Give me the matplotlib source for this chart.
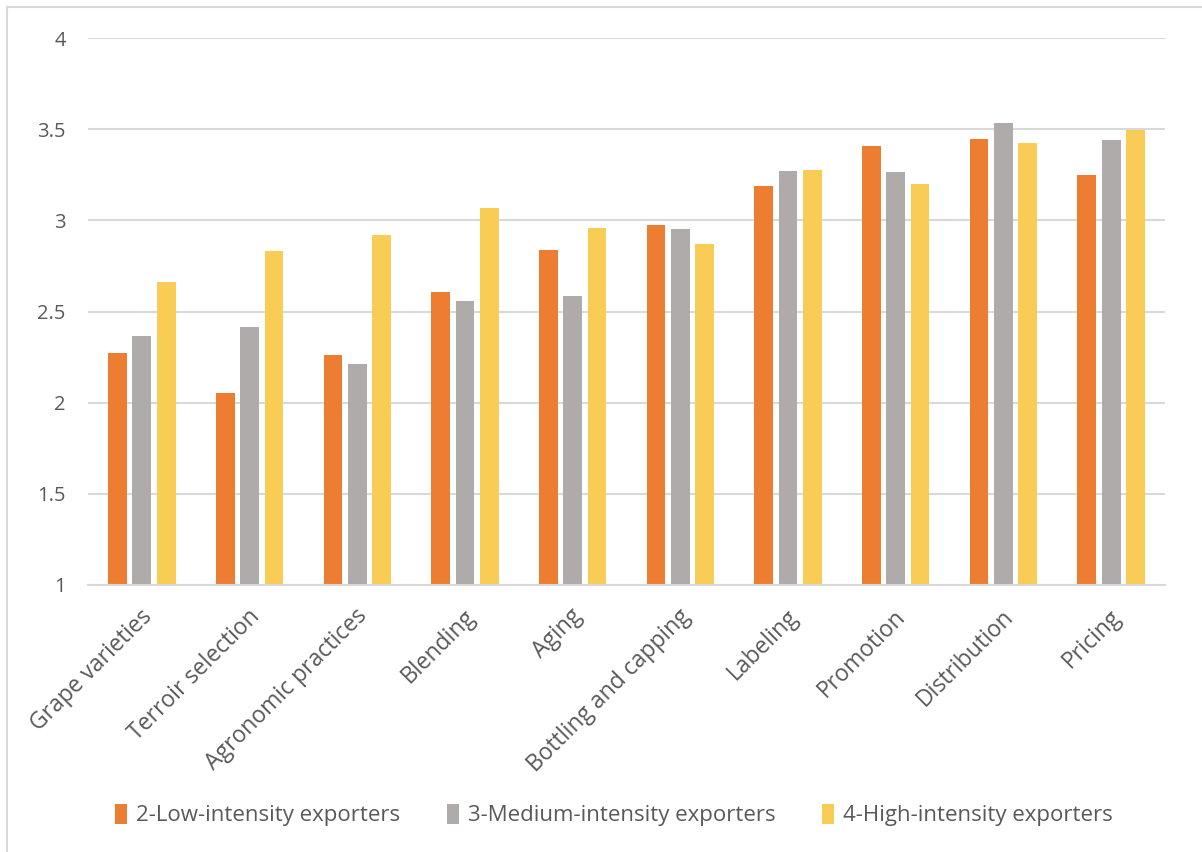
import matplotlib
matplotlib.use("Agg")
import matplotlib.pyplot as plt
from matplotlib.patches import Patch
from matplotlib.lines import Line2D
import numpy as np

categories = ["Grape varieties", "Terroir selection", "Agronomic practices", "Blending",
              "Aging", "Bottling and capping", "Labeling", "Promotion", "Distribution", "Pricing"]
series_names = ["2-Low-intensity exporters", "3-Medium-intensity exporters", "4-High-intensity exporters"]
low = [2.273, 2.053, 2.261, 2.609, 2.839, 2.973, 3.190, 3.405, 3.447, 3.246]
medium = [2.363, 2.416, 2.214, 2.558, 2.587, 2.951, 3.269, 3.267, 3.536, 3.441]
high = [2.660, 2.832, 2.920, 3.070, 2.958, 2.870, 3.277, 3.202, 3.426, 3.498]
yticks = [1, 1.5, 2, 2.5, 3, 3.5, 4]
ytick_labels = ["1", "1.5", "2", "2.5", "3", "3.5", "4"]

colors = ["#ED7D31", "#AFABAB", "#F9CD55"]
text_color = "#595959"
grid_color = "#D9D9D9"

plt.rcParams['font.family'] = ['Open Sans', 'DejaVu Sans']

fig = plt.figure(figsize=(12.02, 8.52), dpi=100)
ax = fig.add_axes([88/1202, 1-585/852, (1165-88)/1202, (585-38)/852])

x = np.arange(len(categories))
width = 0.174
step = 0.226
for k, vals in enumerate([low, medium, high]):
    ax.bar(x + (k-1)*step, np.array(vals) - 1, width=width, bottom=1,
           color=colors[k], zorder=3, label=series_names[k])

ax.set_xlim(-0.5, len(categories)-0.5)
ax.set_ylim(1, 4)
ax.set_yticks(yticks)
ax.set_yticklabels(ytick_labels)
ax.yaxis.grid(True, color=grid_color, linewidth=1.5, zorder=0)
for s in ["top", "right", "left"]:
    ax.spines[s].set_visible(False)
ax.spines["bottom"].set_color(grid_color)
ax.spines["bottom"].set_linewidth(1.5)
ax.spines["bottom"].set_zorder(4)
ax.tick_params(axis="both", length=0, colors=text_color)
ax.tick_params(axis="y", pad=16, labelsize=14.5)
ax.set_xticks(x - 0.02)
ax.set_xticklabels(categories, rotation=45, ha="right", va="top",
                   rotation_mode="anchor", fontsize=16.5, color=text_color)
ax.tick_params(axis="x", pad=14)

handles = [Patch(facecolor=c, edgecolor='none') for c in colors]
leg = fig.legend(handles, series_names, loc="center", bbox_to_anchor=(614/1202, 1-815/852),
                 ncol=3, frameon=False, handlelength=0.55, handleheight=1.0, handletextpad=0.4,
                 columnspacing=2.1, fontsize=16)
for t in leg.get_texts():
    t.set_color(text_color)

# chart border (left and top)
fig.add_artist(Line2D([7/1202, 7/1202], [0, 1-7/852], transform=fig.transFigure, color=grid_color, lw=1.5))
fig.add_artist(Line2D([7/1202, 1], [1-7/852, 1-7/852], transform=fig.transFigure, color=grid_color, lw=1.5))

fig.savefig("out.png", dpi=100, facecolor="white")
